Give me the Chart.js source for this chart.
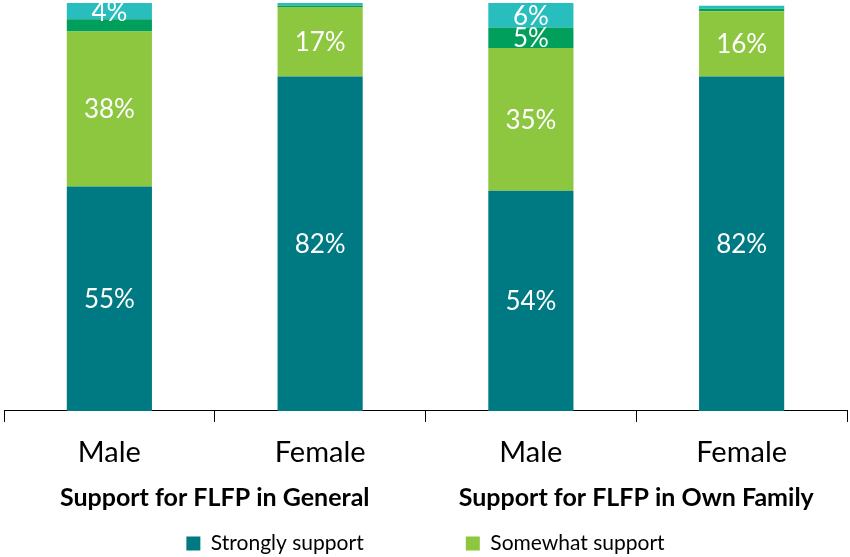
<!DOCTYPE html>
<html>
<head>
<meta charset="utf-8">
<script src="https://cdn.jsdelivr.net/npm/chart.js@4.4.0/dist/chart.umd.min.js"></script>
<style>
  html, body { margin: 0; padding: 0; background: #fff; }
  #box { width: 850px; height: 557px; }
</style>
</head>
<body>
<div id="box"><canvas id="flfp"></canvas></div>
<script>
var categories = ["Male", "Female", "Male", "Female"];
var groups = ["Support for FLFP in General", "Support for FLFP in Own Family"];
var strongly_support = [55, 82, 54, 82];
var somewhat_support = [38, 17, 35, 16];
var somewhat_oppose = [3, 0.4, 5, 0.6];
var strongly_oppose = [4, 0.6, 6, 0.7];

var fontName = "Lato";

// white percent labels inside segments, small ones skipped like the original
var segmentLabels = {
    id: "segmentLabels",
    afterDatasetsDraw: function(chart){
        let ctx = chart.ctx;
        ctx.save();
        ctx.fillStyle = "#ffffff";
        ctx.font = "26px " + fontName;
        ctx.textAlign = "center";
        ctx.textBaseline = "middle";
        chart.data.datasets.forEach(function(ds, i){
            let meta = chart.getDatasetMeta(i);
            meta.data.forEach(function(bar, j){
                let v = ds.data[j];
                if (v < 4) return;
                ctx.fillText(Math.round(v) + "%", bar.x, (bar.y + bar.base) / 2 + 1);
            });
        });
        ctx.restore();
    }
};

function makeSet(label, data, color){
    return {
        label: label,
        data: data,
        backgroundColor: color,
        borderWidth: 0,
        categoryPercentage: 1.0,
        barPercentage: 0.404
    };
}

window.onload = function(){
    let ctx = document.getElementById("flfp");
    new Chart(ctx, {
        type: "bar",
        data: {
            labels: categories,
            datasets: [
                makeSet("Strongly support", strongly_support, "#007A82"),
                makeSet("Somewhat support", somewhat_support, "#8DC63F"),
                makeSet("Somewhat oppose", somewhat_oppose, "#00A05C"),
                makeSet("Strongly oppose", strongly_oppose, "#28BEBE")
            ]
        },
        options: {
            responsive: true,
            maintainAspectRatio: false,
            animation: false,
            layout: { padding: { left: 4, right: 3, top: 3, bottom: -7 } },
            plugins: {
                tooltip: { enabled: false },
                legend: {
                    position: "bottom",
                    title: { display: true, text: "", font: { size: 2 }, padding: { top: 18, bottom: 0 } },
                    labels: {
                        color: "#000",
                        font: { family: fontName, size: 21 },
                        boxWidth: 14,
                        boxHeight: 14,
                        padding: 0,
                        filter: function(item){ return item.datasetIndex < 2; },
                        generateLabels: function(chart){
                            let items = Chart.defaults.plugins.legend.labels.generateLabels(chart);
                            // wide gap after the first entry, as in the original
                            items[0].text = items[0].text + " ".repeat(19);
                            return items;
                        }
                    }
                }
            },
            scales: {
                x: {
                    stacked: true,
                    grid: { drawOnChartArea: false, drawTicks: true, tickLength: 11, color: "#000", offset: true },
                    border: { color: "#000", width: 1 },
                    ticks: { color: "#000", font: { family: fontName, size: 29, lineHeight: 0.505 }, padding: 23 }
                },
                x2: {
                    type: "category",
                    labels: groups,
                    position: "bottom",
                    offset: true,
                    grid: { display: false, drawTicks: false },
                    border: { display: false },
                    ticks: { color: "#000", font: { family: fontName, size: 25, weight: "bold" }, padding: 0 }
                },
                y: {
                    stacked: true,
                    display: false,
                    min: 0,
                    max: 100
                }
            }
        },
        plugins: [segmentLabels]
    });
};
</script>
</body>
</html>
